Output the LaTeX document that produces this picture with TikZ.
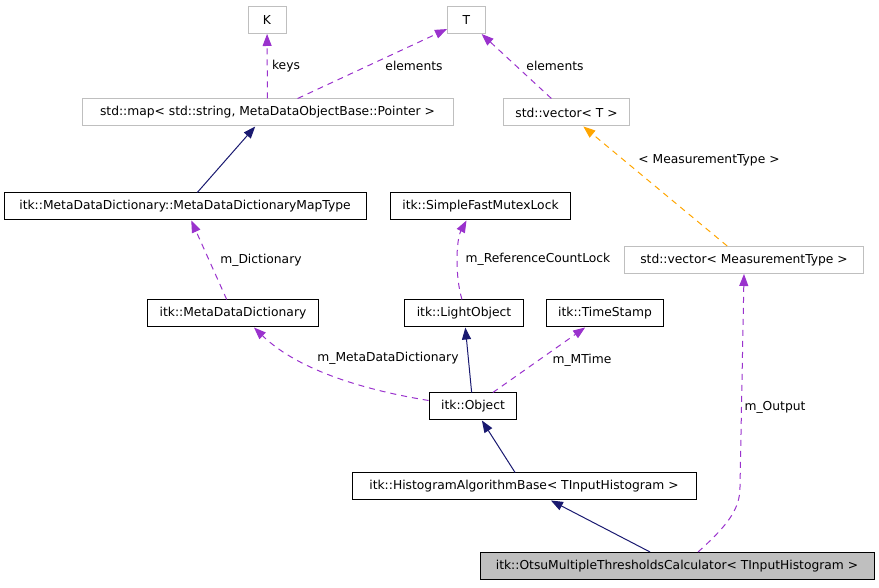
\documentclass[tikz,border=0pt]{standalone}
\usepackage{fontspec}
\setmainfont{DejaVu Sans}
\usetikzlibrary{arrows.meta}
\definecolor{dxnavy}{HTML}{191970}
\definecolor{dxpurple}{HTML}{9A32CD}
\definecolor{dxorange}{HTML}{FFA500}
\definecolor{dxgrey}{HTML}{BFBFBF}
\newcommand{\dxfont}{\fontsize{12.3}{14}\selectfont}

\begin{document}
\begin{tikzpicture}[x=1pt,y=1pt,
      cls/.style={rectangle,draw=black,line width=1pt,minimum height=27pt,inner xsep=12pt,inner ysep=0pt,font=\dxfont},
      ext/.style={cls,draw=dxgrey},
      lbl/.style={font=\dxfont,inner sep=0pt},
      inh/.style={draw=dxnavy,line width=1pt,-{Triangle[length=12pt,width=9pt]}},
      use/.style={draw=dxpurple,line width=1pt,dash pattern=on 6pt off 5pt,-{Triangle[length=12pt,width=9pt]}},
      tpl/.style={use,draw=dxorange}
    ]
      \useasboundingbox (0,0) rectangle (879,587);
      % classes
      \node[ext,minimum width=38pt] (k) at (267,567) {K};
      \node[ext,minimum width=38pt] (t) at (466.5,567) {T};
      \node[ext,minimum width=371pt] (map) at (267.5,474.5) {std::map< std::string, MetaDataObjectBase::Pointer >};
      \node[ext] (vect) at (566.5,474.5) {std::vector< T >};
      \node[cls,minimum width=362pt] (maptype) at (185,380.5) {itk::MetaDataDictionary::MetaDataDictionaryMapType};
      \node[cls] (lock) at (480.5,380.5) {itk::SimpleFastMutexLock};
      \node[ext,minimum width=239pt] (vecm) at (744,327) {std::vector< MeasurementType >};
      \node[cls] (mdd) at (233,273.5) {itk::MetaDataDictionary};
      \node[cls] (light) at (464,273.5) {itk::LightObject};
      \node[cls] (stamp) at (605,273.5) {itk::TimeStamp};
      \node[cls] (obj) at (473,180.5) {itk::Object};
      \node[cls,minimum width=344pt] (hab) at (524,100.5) {itk::HistogramAlgorithmBase< TInputHistogram >};
      \node[cls,fill=dxgrey,minimum width=394pt] (otsu) at (677,21) {itk::OtsuMultipleThresholdsCalculator< TInputHistogram >};
      % connectors
      \draw (map) edge[use] (k) (map) edge[use] (t) (vect) edge[use] (t);
      \draw (maptype) edge[inh] (map) (vecm) edge[tpl] (vect);
      \draw (mdd) edge[use] (maptype) (obj) edge[inh] (light) (obj) edge[use] (stamp);
      \draw (hab) edge[inh] (obj) (otsu) edge[inh] (hab);
      \draw[use] ([xshift=-2pt]light.north) .. controls (455,310) and (456,347) .. ([xshift=-14pt]lock.south);
      \draw[use] ([yshift=6pt]obj.west) .. controls (370,196) and (300,215) .. ([xshift=21pt]mdd.south);
      \draw[use] ([xshift=21pt]otsu.north) .. controls (728,62) and (740,78) .. (740,100) -- (vecm.south);
      % labels
      \node[lbl] (lkeys) at (286,521) {keys};
      \node[lbl] (lelem) at (414,521) {elements};
      \node[lbl] (lelemv) at (555,521) {elements};
      \node[lbl] (lmeas) at (709,427) {< MeasurementType >};
      \node[lbl] (llock) at (538,328) {m\_ReferenceCountLock};
      \node[lbl] (ldict) at (261,327) {m\_Dictionary};
      \node[lbl] (lmdd) at (388,229) {m\_MetaDataDictionary};
      \node[lbl] (ltime) at (582,227) {m\_MTime};
      \node[lbl] (lout) at (775,180) {m\_Output};
    \end{tikzpicture}
\end{document}
